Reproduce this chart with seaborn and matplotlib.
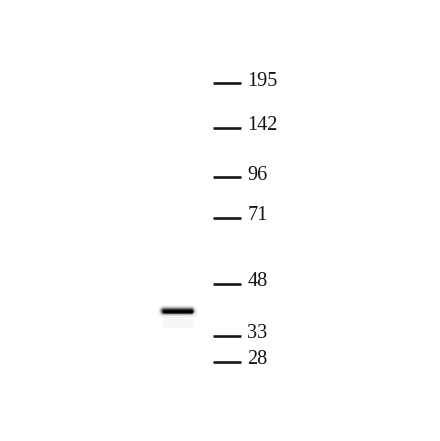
import numpy as np
import pandas as pd
import matplotlib
matplotlib.use("Agg")
import matplotlib.pyplot as plt
import seaborn as sns

# Molecular-weight ladder (kDa) and migration distance from top of image (px)
marker_kda = ["195", "142", "96", "71", "48", "33", "28"]
marker_migration = [83, 128, 177, 218, 284, 336, 362]

# Detected band in the single sample lane
band_lane = ["sample"]
band_migration = [311]
band_intensity = [0.9]

sns.set_theme(style="white")
plt.rcParams["font.family"] = ["Liberation Serif", "DejaVu Serif"]

W, H = 440, 441
fig = plt.figure(figsize=(W / 100, H / 100), dpi=100)
ax = fig.add_axes([0, 0, 1, 1])
ax.set_xlim(0, W)
ax.set_ylim(H, 0)
ax.set_axis_off()
fig.patch.set_facecolor("white")

px = 72 / 100  # points per pixel

# ladder dashes
dash_x0, dash_x1 = 213, 241
ladder = pd.DataFrame({
    "x": [dash_x0, dash_x1] * len(marker_kda),
    "y": np.repeat(marker_migration, 2),
    "kda": np.repeat(marker_kda, 2),
})
sns.lineplot(data=ladder, x="x", y="y", units="kda", estimator=None,
             color="#141414", linewidth=2.6 * px, ax=ax, legend=False,
             solid_capstyle="butt")
for lab, y in zip(marker_kda, marker_migration):
    ax.text(247.5, y + 2.5, lab, fontsize=14.6, color="#141414",
            ha="left", va="baseline")

# band (layered to mimic the blurred chemiluminescent signal)
lane_x0, lane_x1 = 164, 191
for lane, y, inten in zip(band_lane, band_migration, band_intensity):
    layers = [(13, 0.05), (10, 0.1), (8, 0.2), (6, 0.4), (4.5, 0.7), (3, 1.0)]
    for lw, a in layers:
        df = pd.DataFrame({"x": [lane_x0, lane_x1], "y": [y, y]})
        sns.lineplot(data=df, x="x", y="y", color="black",
                     alpha=a * inten, linewidth=lw * px,
                     solid_capstyle="round", ax=ax, legend=False)
    smear = pd.DataFrame({"x": [lane_x0 + 2, lane_x1 - 2], "y": [y + 12, y + 12]})
    sns.lineplot(data=smear, x="x", y="y", color="black", alpha=0.035,
                 linewidth=9 * px, solid_capstyle="round", ax=ax, legend=False)

ax.set_xlabel("")
ax.set_ylabel("")
fig.savefig("out.png", dpi=100, facecolor="white")
